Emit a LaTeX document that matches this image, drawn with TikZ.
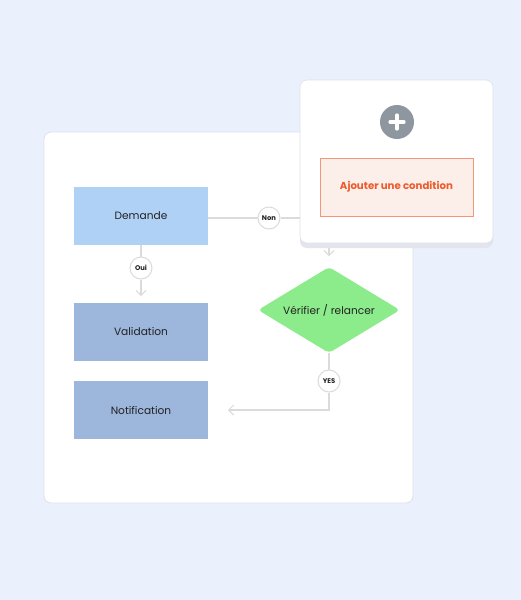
\documentclass[tikz,border=0pt]{standalone}
\usepackage{fontspec}
\setmainfont{Poppins}
\usetikzlibrary{shapes.geometric,arrows.meta,calc}
\definecolor{bg}{HTML}{EBF0FD}
\definecolor{cardline}{HTML}{DDE1EA}
\definecolor{shad}{HTML}{E2E5EC}
\definecolor{blueA}{HTML}{AFD1F6}
\definecolor{blueB}{HTML}{9DB6DB}
\definecolor{greenD}{HTML}{8CEC8C}
\definecolor{conn}{HTML}{DDDADC}
\definecolor{plusg}{HTML}{8E96A0}
\definecolor{orfill}{HTML}{FCEEE9}
\definecolor{orline}{HTML}{F3967A}
\definecolor{ortext}{HTML}{EE5A2A}
\definecolor{txt}{HTML}{222222}
\begin{document}
\begin{tikzpicture}[x=1pt,y=-1pt,
  box/.style={draw=none,minimum width=134pt,minimum height=58pt,inner sep=0pt,font=\fontsize{10.6}{12}\selectfont,text=txt},
  lbl/.style={circle,draw=conn,fill=white,line width=1pt,minimum size=22pt,inner sep=0pt,font=\fontsize{6.8}{7}\selectfont\bfseries,text=txt},
  cn/.style={draw=conn,line width=1.2pt},
  arr/.style={cn,-{Straight Barb[length=5pt,width=10pt,line width=1pt]}}]
\fill[bg] (0,0) rectangle (521,600);
\useasboundingbox (0,0) rectangle (521,600);
% main card
\filldraw[fill=white,draw=cardline,line width=0.8pt,rounded corners=7pt] (44,132) rectangle (413,503);
% nodes
\node[box,fill=blueA] (dem) at (141,216) {Demande};
\node[box,fill=blueB] (val) at (141,332) {Validation};
\node[box,fill=blueB] (notif) at (141,410) {Notification};
\node[diamond,fill=greenD,minimum width=142pt,minimum height=86pt,inner sep=0pt,aspect=1.65,rounded corners=4pt,font=\fontsize{10.6}{12}\selectfont,text=txt] (ver) at (329,310) {Vérifier / relancer};
% connectors
\coordinate (p1) at (300,218);
\coordinate (pa) at (329,243);
\coordinate (pb) at (329,256);
\coordinate (y2) at (329,410);
\coordinate (y3) at (228,410);
\coordinate (o2) at (141,296);
\node[lbl] (oui) at (141,268) {Oui};
\node[lbl] (non) at (269,218) {Non};
\node[lbl] (yes) at (329,381) {YES};
\draw[cn] (dem.south) -- (oui);
\draw[arr] (oui) -- (o2);
\draw[cn] (dem.east |- non) -- (non);
\draw[cn] (non) -- (p1);
\draw[arr] (pa) -- (pb);
\draw[cn] (ver.south) -- (yes);
\draw[arr] (yes) -- (y2) -- (y3);
% popup
\fill[shad,rounded corners=7pt] (300,90) rectangle (493,248);
\filldraw[fill=white,draw=cardline,line width=0.6pt,rounded corners=7pt] (300,80) rectangle (493,243);
\node[circle,fill=plusg,minimum size=34pt,inner sep=0pt] (plus) at (397,122) {};
\draw[white,line width=3.2pt,line cap=round] ($(plus)+(-7,0)$) -- ($(plus)+(7,0)$);
\draw[white,line width=3.2pt,line cap=round] ($(plus)+(0,-7)$) -- ($(plus)+(0,7)$);
\node[draw=orline,fill=orfill,line width=0.8pt,minimum width=153pt,minimum height=58pt,inner sep=0pt,font=\fontsize{10.2}{11}\selectfont\bfseries,text=ortext] (add) at (396.5,187) {Ajouter une condition};
\end{tikzpicture}
\end{document}
